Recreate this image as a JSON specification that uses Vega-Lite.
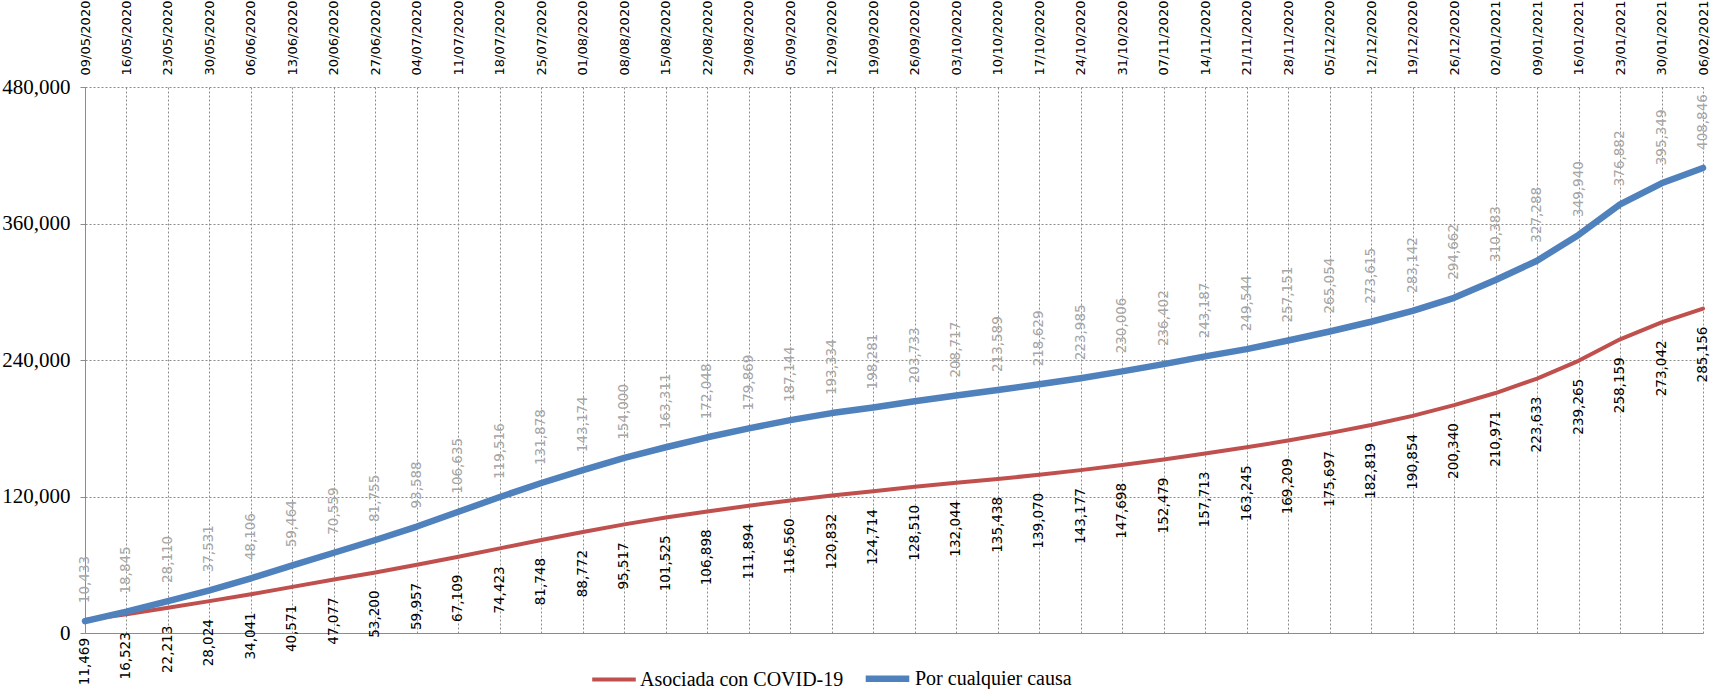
{
  "$schema": "https://vega.github.io/schema/vega-lite/v6.json",
  "autosize": "none",
  "padding": {"left": 85, "top": 87, "right": 14, "bottom": 56},
  "width": 1618,
  "height": 546,
  "background": "white",
  "data": {
    "values": [
      {"fecha": "09/05/2020", "covid": 11469, "total": 10433},
      {"fecha": "16/05/2020", "covid": 16523, "total": 18845},
      {"fecha": "23/05/2020", "covid": 22213, "total": 28110},
      {"fecha": "30/05/2020", "covid": 28024, "total": 37531},
      {"fecha": "06/06/2020", "covid": 34041, "total": 48106},
      {"fecha": "13/06/2020", "covid": 40571, "total": 59464},
      {"fecha": "20/06/2020", "covid": 47077, "total": 70559},
      {"fecha": "27/06/2020", "covid": 53200, "total": 81755},
      {"fecha": "04/07/2020", "covid": 59957, "total": 93588},
      {"fecha": "11/07/2020", "covid": 67109, "total": 106635},
      {"fecha": "18/07/2020", "covid": 74423, "total": 119516},
      {"fecha": "25/07/2020", "covid": 81748, "total": 131878},
      {"fecha": "01/08/2020", "covid": 88772, "total": 143174},
      {"fecha": "08/08/2020", "covid": 95517, "total": 154000},
      {"fecha": "15/08/2020", "covid": 101525, "total": 163311},
      {"fecha": "22/08/2020", "covid": 106898, "total": 172048},
      {"fecha": "29/08/2020", "covid": 111894, "total": 179869},
      {"fecha": "05/09/2020", "covid": 116560, "total": 187144},
      {"fecha": "12/09/2020", "covid": 120832, "total": 193334},
      {"fecha": "19/09/2020", "covid": 124714, "total": 198281},
      {"fecha": "26/09/2020", "covid": 128510, "total": 203733},
      {"fecha": "03/10/2020", "covid": 132044, "total": 208717},
      {"fecha": "10/10/2020", "covid": 135438, "total": 213589},
      {"fecha": "17/10/2020", "covid": 139070, "total": 218629},
      {"fecha": "24/10/2020", "covid": 143177, "total": 223985},
      {"fecha": "31/10/2020", "covid": 147698, "total": 230006},
      {"fecha": "07/11/2020", "covid": 152479, "total": 236402},
      {"fecha": "14/11/2020", "covid": 157713, "total": 243187},
      {"fecha": "21/11/2020", "covid": 163245, "total": 249544},
      {"fecha": "28/11/2020", "covid": 169209, "total": 257151},
      {"fecha": "05/12/2020", "covid": 175697, "total": 265054},
      {"fecha": "12/12/2020", "covid": 182819, "total": 273615},
      {"fecha": "19/12/2020", "covid": 190854, "total": 283142},
      {"fecha": "26/12/2020", "covid": 200340, "total": 294662},
      {"fecha": "02/01/2021", "covid": 210971, "total": 310383},
      {"fecha": "09/01/2021", "covid": 223633, "total": 327288},
      {"fecha": "16/01/2021", "covid": 239265, "total": 349940},
      {"fecha": "23/01/2021", "covid": 258159, "total": 376882},
      {"fecha": "30/01/2021", "covid": 273042, "total": 395349},
      {"fecha": "06/02/2021", "covid": 285156, "total": 408846}
    ]
  },
  "transform": [
    {"fold": ["covid", "total"], "as": ["clave", "valor"]},
    {"calculate": "datum.clave === 'covid' ? 'Asociada con COVID-19' : 'Por cualquier causa'", "as": "serie"}
  ],
  "encoding": {
    "x": {
      "field": "fecha",
      "type": "ordinal",
      "sort": null,
      "scale": {"type": "point", "padding": 0},
      "axis": {
        "orient": "top",
        "title": null,
        "labelAngle": -90,
        "labelAlign": "left",
        "labelBaseline": "middle",
        "labelFont": "DejaVu Sans",
        "labelFontSize": 13,
        "labelColor": "#000000",
        "labelPadding": 12,
        "ticks": false,
        "domain": false,
        "grid": true,
        "gridColor": "#8c8c8c",
        "gridDash": [2, 2],
        "gridWidth": 1,
        "labelOverlap": false
      }
    },
    "y": {
      "field": "valor",
      "type": "quantitative",
      "scale": {"domain": [0, 480000], "nice": false, "zero": true},
      "axis": {
        "title": null,
        "values": [0, 120000, 240000, 360000, 480000],
        "format": ",.0f",
        "labelFont": "Liberation Serif",
        "labelFontSize": 21,
        "labelColor": "#000000",
        "labelPadding": 10,
        "tickSize": 5,
        "tickColor": "#8c8c8c",
        "domainColor": "#8c8c8c",
        "domainWidth": 1,
        "grid": true,
        "gridColor": "#8c8c8c",
        "gridDash": {"condition": {"test": "datum.value === 0", "value": []}, "value": [2, 2]},
        "gridWidth": 1
      }
    }
  },
  "layer": [
    {
      "mark": {"type": "line", "strokeCap": "round", "strokeJoin": "round"},
      "encoding": {
        "color": {
          "field": "serie",
          "type": "nominal",
          "scale": {"domain": ["Asociada con COVID-19", "Por cualquier causa"], "range": ["#C0504D", "#4F81BD"]},
          "legend": {
            "title": null,
            "orient": "none",
            "direction": "horizontal",
            "legendX": 505,
            "legendY": 566,
            "symbolType": "stroke",
            "symbolSize": 1900,
            "symbolStrokeWidth": 5,
            "labelFont": "Liberation Serif",
            "labelFontSize": 20,
            "labelColor": "#000000",
            "labelOffset": 2,
            "columnPadding": 8,
            "labelLimit": 400
          }
        },
        "strokeWidth": {
          "field": "serie",
          "type": "nominal",
          "scale": {"domain": ["Asociada con COVID-19", "Por cualquier causa"], "range": [4, 6.5]},
          "legend": null
        }
      }
    },
    {
      "transform": [{"filter": "datum.clave === 'covid'"}],
      "mark": {"type": "text", "angle": 270, "align": "right", "baseline": "middle", "dx": -18, "font": "DejaVu Sans", "fontSize": 13.5, "color": "#000000"},
      "encoding": {
        "text": {"field": "valor", "type": "quantitative", "format": ",.0f"}
      }
    },
    {
      "transform": [{"filter": "datum.clave === 'total'"}],
      "mark": {"type": "text", "angle": 270, "align": "left", "baseline": "middle", "dx": 18, "font": "DejaVu Sans", "fontSize": 13.5, "color": "#a6a6a6"},
      "encoding": {
        "text": {"field": "valor", "type": "quantitative", "format": ",.0f"}
      }
    }
  ],
  "config": {"view": {"stroke": null}}
}
